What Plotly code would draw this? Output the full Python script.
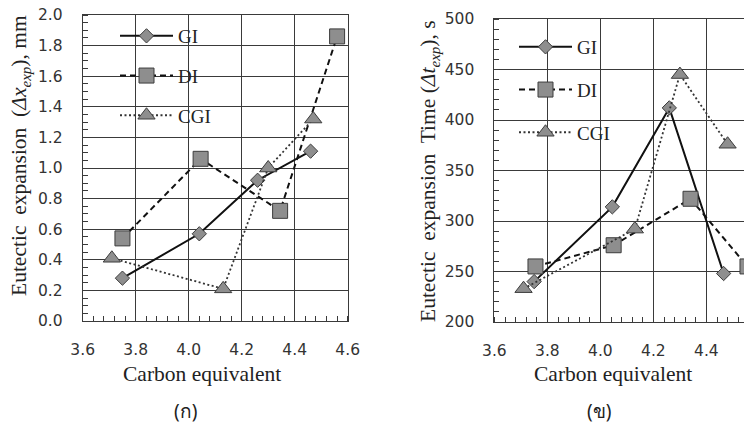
import plotly.graph_objects as go

# ---- data ----
ce_gi_a = [3.75, 4.04, 4.26, 4.46]
dx_gi = [0.28, 0.57, 0.92, 1.11]
ce_di_a = [3.75, 4.045, 4.345, 4.56]
dx_di = [0.54, 1.06, 0.72, 1.86]
ce_cgi_a = [3.71, 4.13, 4.30, 4.47]
dx_cgi = [0.41, 0.21, 1.00, 1.32]

ce_gi_b = [3.75, 4.045, 4.26, 4.465]
dt_gi = [240, 314, 412, 248]
ce_di_b = [3.755, 4.05, 4.34, 4.555]
dt_di = [255, 276, 322, 255]
ce_cgi_b = [3.71, 4.13, 4.30, 4.48]
dt_cgi = [233, 292, 445, 376]

series_names = ["GI", "DI", "CGI"]
x_title = "Carbon equivalent"
y_title_a = "Eutectic&#160; expansion&#160; (<i>Δx<sub>exp</sub></i>), mm"
y_title_b = "Eutectic&#160; expansion&#160; Time (<i>Δt<sub>exp</sub></i>), s"
captions = ["(ก)", "(ข)"]

# the page body adds an 8px margin; lay out in reference-window pixels
OFF = 8
W, H = 752 - OFF, 426 - OFF
def px(x):
    return (x - OFF) / W
def py(y):
    return 1 - (y - OFF) / H

FILL = "#8e8e8e"
EDGE = "#3c3c3c"
styles = {
    "GI": dict(line=dict(color="#111", width=2, dash="solid"),
               marker=dict(symbol="diamond", size=11, color=FILL, line=dict(color=EDGE, width=1))),
    "DI": dict(line=dict(color="#111", width=2, dash="6px,4px"),
               marker=dict(symbol="square", size=15, color=FILL, line=dict(color=EDGE, width=1))),
    "CGI": dict(line=dict(color="#333", width=1.8, dash="2px,2.5px"),
                marker=dict(symbol="triangle-up", size=15, color=FILL, line=dict(color=EDGE, width=1))),
}

fig = go.Figure()
data_a = {"GI": (ce_gi_a, dx_gi), "DI": (ce_di_a, dx_di), "CGI": (ce_cgi_a, dx_cgi)}
data_b = {"GI": (ce_gi_b, dt_gi), "DI": (ce_di_b, dt_di), "CGI": (ce_cgi_b, dt_cgi)}
for n in series_names:
    x, y = data_a[n]
    fig.add_trace(go.Scatter(x=x, y=y, name=n, mode="lines+markers", xaxis="x", yaxis="y",
                             legend="legend", legendgroup="a" + n, cliponaxis=False, **styles[n]))
for n in series_names:
    x, y = data_b[n]
    fig.add_trace(go.Scatter(x=x, y=y, name=n, mode="lines+markers", xaxis="x2", yaxis="y2",
                             legend="legend2", legendgroup="b" + n, cliponaxis=False, **styles[n]))

tickfont = dict(family="DejaVu Sans", size=15.5, color="#333")
grid = "#3a3a3a"
clear = "rgba(0,0,0,0)"
common_x = dict(dtick=0.2, tickformat=".1f", showgrid=True, gridcolor=grid, gridwidth=1,
                showline=True, linecolor=grid, linewidth=1, ticks="outside", ticklen=14,
                tickcolor=clear, tickfont=tickfont, zeroline=False, automargin=False,
                ticklabeloverflow="allow",
                minor=dict(ticks="inside", dtick=0.04, ticklen=5, tickcolor=grid, showgrid=False))
common_y = dict(showgrid=True, gridcolor=grid, showline=True, linecolor=grid, ticks="outside",
                ticklen=16, tickcolor=clear, tickfont=tickfont, zeroline=False, automargin=False,
                ticklabeloverflow="allow")

ax_a_l, ax_a_r = 82.7, 347.7
ax_b_l = 494.4
xr_b = 3.6 + (752 - ax_b_l) / 265.0

fig.update_layout(
    width=W, height=H, margin=dict(l=0, r=0, t=0, b=0, autoexpand=False),
    paper_bgcolor="white", plot_bgcolor="white", showlegend=True,
    xaxis=dict(domain=[px(ax_a_l), px(ax_a_r)], range=[3.6, 4.6], anchor="y", mirror=True, **common_x),
    yaxis=dict(domain=[py(321), py(15)], range=[0, 2.0], dtick=0.2, tickformat=".1f", anchor="x",
               mirror=True,
               minor=dict(ticks="inside", dtick=0.05, ticklen=5, tickcolor=grid, showgrid=False),
               **common_y),
    xaxis2=dict(domain=[px(ax_b_l), 1.0], range=[3.6, xr_b], anchor="y2", mirror=True, **common_x),
    yaxis2=dict(domain=[py(322), py(19)], range=[200, 500], dtick=50, anchor="x2", mirror=False,
                minor=dict(ticks="inside", dtick=10, ticklen=5, tickcolor=grid, showgrid=False),
                **common_y),
    legend=dict(x=px(115), y=py(17), xanchor="left", yanchor="top", bgcolor=clear,
                font=dict(family="Liberation Serif", size=19, color="#222"), itemwidth=53,
                traceorder="grouped", tracegroupgap=12),
    legend2=dict(x=px(514), y=py(28), xanchor="left", yanchor="top", bgcolor=clear,
                 font=dict(family="Liberation Serif", size=19, color="#222"), itemwidth=53,
                 traceorder="grouped", tracegroupgap=15),
)

title_font = dict(family="Liberation Serif", size=21.5, color="#222")
annots = [
    dict(text=x_title, x=px(202), y=py(374), xref="paper", yref="paper", showarrow=False,
         font=title_font, xanchor="center", yanchor="middle"),
    dict(text=x_title, x=px(613), y=py(374), xref="paper", yref="paper", showarrow=False,
         font=title_font, xanchor="center", yanchor="middle"),
    dict(text=y_title_a, x=px(20), y=py(156), xref="paper", yref="paper", showarrow=False,
         font=title_font, textangle=-90, xanchor="center", yanchor="middle"),
    dict(text=y_title_b, x=px(429), y=py(171), xref="paper", yref="paper", showarrow=False,
         font=title_font, textangle=-90, xanchor="center", yanchor="middle"),
    dict(text=captions[0], x=px(185), y=py(411), xref="paper", yref="paper", showarrow=False,
         font=dict(family="Noto Sans", size=19, color="#222"), xanchor="center", yanchor="middle"),
    dict(text=captions[1], x=px(599), y=py(411), xref="paper", yref="paper", showarrow=False,
         font=dict(family="Noto Sans", size=19, color="#222"), xanchor="center", yanchor="middle"),
]
fig.update_layout(annotations=annots)

fig.write_html("out.html")
